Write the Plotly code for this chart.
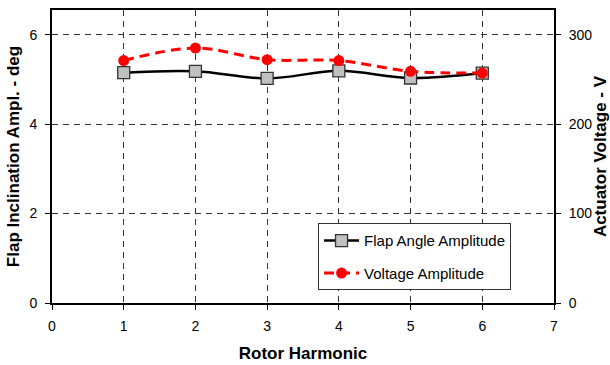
import plotly.graph_objects as go

# Rotor harmonic number and measured amplitudes
harmonic = [1, 2, 3, 4, 5, 6]
flap_amplitude_deg = [5.15, 5.18, 5.02, 5.19, 5.03, 5.14]
voltage_amplitude_v = [271, 285, 272, 271, 259, 257]

x_ticks = [0, 1, 2, 3, 4, 5, 6, 7]
y_left_ticks = [0, 2, 4, 6]
y_right_ticks = [0, 100, 200, 300]

FONT = "Liberation Sans, Arial, sans-serif"

fig = go.Figure()

fig.add_trace(go.Scatter(
    x=harmonic, y=flap_amplitude_deg, name="Flap Angle Amplitude",
    mode="lines+markers", line=dict(color="black", width=2.5, shape="spline"),
    marker=dict(symbol="square", size=12, color="#c0c0c0",
                line=dict(color="#333333", width=1.3)),
    legendgroup="a", yaxis="y",
))
fig.add_trace(go.Scatter(
    x=harmonic, y=voltage_amplitude_v, name="Voltage Amplitude",
    mode="lines+markers",
    line=dict(color="#ff0000", width=3, shape="spline", dash="10px,6px"),
    marker=dict(symbol="circle", size=11, color="#ff0000"),
    legendgroup="b", yaxis="y2",
))

tick_font = dict(family=FONT, size=14, color="black")
title_font = dict(family=FONT, size=17, color="black")

fig.update_layout(
    width=610, height=365,
    margin=dict(l=52, r=56, t=10, b=62),
    paper_bgcolor="white", plot_bgcolor="white",
    font=dict(family=FONT, color="black"),
    xaxis=dict(
        range=[0, 7], tickvals=x_ticks, showgrid=True,
        gridcolor="#333333", griddash="6px,5px", gridwidth=1,
        showline=True, linecolor="black", linewidth=2, mirror=True,
        ticks="outside", ticklen=5, tickcolor="black", tickwidth=1,
        ticklabelstandoff=4, tickfont=tick_font, zeroline=False,
        automargin=False,
        title=dict(text="<b>Rotor Harmonic</b>", font=title_font, standoff=14),
    ),
    yaxis=dict(
        range=[0, 6.55], tickvals=y_left_ticks, showgrid=True,
        gridcolor="#333333", griddash="6px,5px", gridwidth=1,
        showline=True, linecolor="black", linewidth=2,
        ticks="outside", ticklen=5, tickcolor="black", tickwidth=1,
        ticklabelstandoff=5, tickfont=tick_font, zeroline=False,
        automargin=False,
        title=dict(text="<b>Flap Inclination Ampl. - deg</b>", font=title_font, standoff=5),
    ),
    yaxis2=dict(
        range=[0, 327.5], tickvals=y_right_ticks, showgrid=False,
        overlaying="y", side="right",
        showline=True, linecolor="black", linewidth=2,
        ticks="outside", ticklen=5, tickcolor="black", tickwidth=1,
        ticklabelstandoff=5, tickfont=tick_font, zeroline=False,
        automargin=False,
        title=dict(text="<b>Actuator Voltage - V</b>", font=title_font, standoff=12),
    ),
    legend=dict(
        x=0.53, y=0.272, xanchor="left", yanchor="top",
        bgcolor="white", bordercolor="#333333", borderwidth=1,
        font=dict(family=FONT, size=15, color="black"),
        tracegroupgap=10, itemwidth=35,
    ),
    showlegend=True,
)

fig.write_html("out.html")
